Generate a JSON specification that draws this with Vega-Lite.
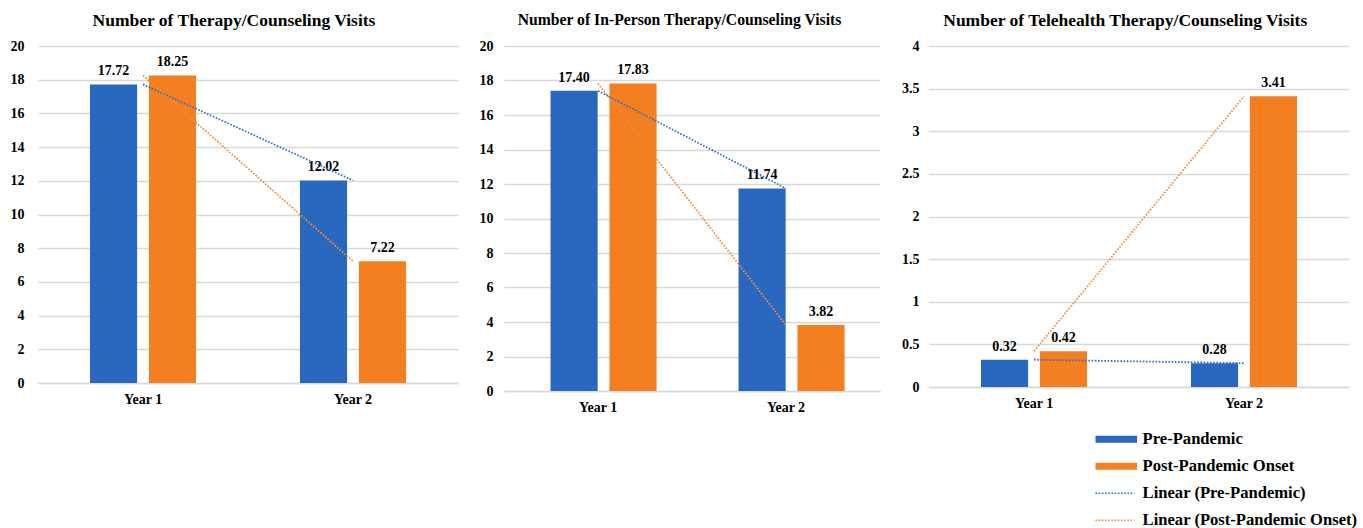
{
  "$schema": "https://vega.github.io/schema/vega-lite/v6.json",
  "background": "white",
  "padding": {"left": 10, "top": 11, "right": 0, "bottom": 0},
  "spacing": 21,
  "datasets": {
    "therapy": [
      {"year": "Year 1", "series": "Pre-Pandemic", "trend": "Linear (Pre-Pandemic)", "value": 17.72},
      {"year": "Year 1", "series": "Post-Pandemic Onset", "trend": "Linear (Post-Pandemic Onset)", "value": 18.25},
      {"year": "Year 2", "series": "Pre-Pandemic", "trend": "Linear (Pre-Pandemic)", "value": 12.02},
      {"year": "Year 2", "series": "Post-Pandemic Onset", "trend": "Linear (Post-Pandemic Onset)", "value": 7.22}
    ],
    "inperson": [
      {"year": "Year 1", "series": "Pre-Pandemic", "trend": "Linear (Pre-Pandemic)", "value": 17.40},
      {"year": "Year 1", "series": "Post-Pandemic Onset", "trend": "Linear (Post-Pandemic Onset)", "value": 17.83},
      {"year": "Year 2", "series": "Pre-Pandemic", "trend": "Linear (Pre-Pandemic)", "value": 11.74},
      {"year": "Year 2", "series": "Post-Pandemic Onset", "trend": "Linear (Post-Pandemic Onset)", "value": 3.82}
    ],
    "telehealth": [
      {"year": "Year 1", "series": "Pre-Pandemic", "trend": "Linear (Pre-Pandemic)", "value": 0.32},
      {"year": "Year 1", "series": "Post-Pandemic Onset", "trend": "Linear (Post-Pandemic Onset)", "value": 0.42},
      {"year": "Year 2", "series": "Pre-Pandemic", "trend": "Linear (Pre-Pandemic)", "value": 0.28},
      {"year": "Year 2", "series": "Post-Pandemic Onset", "trend": "Linear (Post-Pandemic Onset)", "value": 3.41}
    ]
  },
  "config": {
    "view": {"stroke": null},
    "font": "Liberation Serif",
    "title": {"font": "Liberation Serif", "fontSize": 17.5, "fontWeight": "bold", "color": "#000000", "offset": 10, "frame": "bounds"},
    "axis": {
      "labelFont": "Liberation Serif", "labelFontWeight": "bold", "labelFontSize": 14, "labelColor": "#000000",
      "ticks": false, "domain": false, "gridColor": "#d9d9d9", "gridWidth": 1.5
    },
    "axisX": {"grid": false, "domain": true, "domainColor": "#d9d9d9", "domainWidth": 1.5, "labelPadding": 9, "labelAngle": 0},
    "axisY": {"labelPadding": 13},
    "legend": {
      "orient": "none", "legendX": 1050, "legendY": 385,
      "labelFont": "Liberation Serif", "labelFontWeight": "bold", "labelFontSize": 16.6, "labelColor": "#000000",
      "labelLimit": 400, "symbolSize": 36, "labelOffset": 38, "rowPadding": 10
    },
    "text": {"font": "Liberation Serif", "fontWeight": "bold", "fontSize": 14, "color": "#000000"}
  },
  "hconcat": [
    {
      "data": {"name": "therapy"},
      "width": 420, "height": 337,
      "title": {"text": "Number of Therapy/Counseling Visits"},
      "encoding": {
        "x": {"field": "year", "type": "nominal", "title": null, "scale": {"paddingInner": 0.495, "paddingOuter": 0.2476}},
        "y": {"field": "value", "type": "quantitative", "title": null, "scale": {"domain": [0, 20]}, "axis": {"values": [0, 2, 4, 6, 8, 10, 12, 14, 16, 18, 20], "labelPadding": 14}}
      },
      "layer": [
        {
          "mark": {"type": "bar"},
          "encoding": {
            "xOffset": {"field": "series", "sort": ["Pre-Pandemic", "Post-Pandemic Onset"], "scale": {"paddingInner": 0.2, "paddingOuter": 0}},
            "color": {"field": "series", "type": "nominal",
              "scale": {"domain": ["Pre-Pandemic", "Post-Pandemic Onset", "Linear (Pre-Pandemic)", "Linear (Post-Pandemic Onset)"], "range": ["#2A67BE", "#F47F20", "#2F6FD0", "#F58A3A"]},
              "legend": {"title": null, "encode": {"symbols": {"update": {
                "shape": {"signal": "slice(datum.value,0,6) === 'Linear' ? 'M-0.3,0H12.7' : 'M0,-0.9H13.33V0.9H0Z'"},
                "fill": {"signal": "slice(datum.value,0,6) === 'Linear' ? 'transparent' : (datum.value === 'Pre-Pandemic' ? '#2A67BE' : '#F47F20')"},
                "stroke": {"signal": "slice(datum.value,0,6) === 'Linear' ? (datum.value === 'Linear (Pre-Pandemic)' ? '#2F6FD0' : '#F58A3A') : 'transparent'"},
                "strokeDash": {"signal": "slice(datum.value,0,6) === 'Linear' ? [1.6,1.6] : [1,0]"},
                "strokeWidth": {"value": 1.6},
                "opacity": {"value": 1}
              }}}}}
          }
        },
        {
          "mark": {"type": "text", "baseline": "bottom", "dy": -6},
          "encoding": {
            "xOffset": {"field": "series", "sort": ["Pre-Pandemic", "Post-Pandemic Onset"], "scale": {"paddingInner": 0.2, "paddingOuter": 0}},
            "text": {"field": "value", "type": "quantitative", "format": ".2f"}
          }
        },
        {
          "mark": {"type": "line", "strokeDash": [1.6, 1.6], "strokeWidth": 1.8},
          "encoding": {
            "color": {"field": "trend", "type": "nominal",
              "scale": {"domain": ["Pre-Pandemic", "Post-Pandemic Onset", "Linear (Pre-Pandemic)", "Linear (Post-Pandemic Onset)"], "range": ["#2A67BE", "#F47F20", "#2F6FD0", "#F58A3A"]},
              "legend": {"title": null}}
          }
        }
      ]
    },
    {
      "data": {"name": "inperson"},
      "width": 376, "height": 345,
      "title": {"text": "Number of In-Person Therapy/Counseling Visits", "fontSize": 15.7},
      "encoding": {
        "x": {"field": "year", "type": "nominal", "title": null, "scale": {"paddingInner": 0.495, "paddingOuter": 0.2476}},
        "y": {"field": "value", "type": "quantitative", "title": null, "scale": {"domain": [0, 20]}, "axis": {"values": [0, 2, 4, 6, 8, 10, 12, 14, 16, 18, 20], "labelPadding": 11}}
      },
      "layer": [
        {
          "mark": {"type": "bar"},
          "encoding": {
            "xOffset": {"field": "series", "sort": ["Pre-Pandemic", "Post-Pandemic Onset"], "scale": {"paddingInner": 0.2, "paddingOuter": 0}},
            "color": {"field": "series", "type": "nominal",
              "scale": {"domain": ["Pre-Pandemic", "Post-Pandemic Onset", "Linear (Pre-Pandemic)", "Linear (Post-Pandemic Onset)"], "range": ["#2A67BE", "#F47F20", "#2F6FD0", "#F58A3A"]},
              "legend": {"title": null}}
          }
        },
        {
          "mark": {"type": "text", "baseline": "bottom", "dy": -6},
          "encoding": {
            "xOffset": {"field": "series", "sort": ["Pre-Pandemic", "Post-Pandemic Onset"], "scale": {"paddingInner": 0.2, "paddingOuter": 0}},
            "text": {"field": "value", "type": "quantitative", "format": ".2f"}
          }
        },
        {
          "mark": {"type": "line", "strokeDash": [1.6, 1.6], "strokeWidth": 1.8},
          "encoding": {
            "color": {"field": "trend", "type": "nominal",
              "scale": {"domain": ["Pre-Pandemic", "Post-Pandemic Onset", "Linear (Pre-Pandemic)", "Linear (Post-Pandemic Onset)"], "range": ["#2A67BE", "#F47F20", "#2F6FD0", "#F58A3A"]},
              "legend": {"title": null}}
          }
        }
      ]
    },
    {
      "data": {"name": "telehealth"},
      "width": 420, "height": 341,
      "title": {"text": "Number of Telehealth Therapy/Counseling Visits"},
      "encoding": {
        "x": {"field": "year", "type": "nominal", "title": null, "scale": {"paddingInner": 0.495, "paddingOuter": 0.2476}},
        "y": {"field": "value", "type": "quantitative", "title": null, "scale": {"domain": [0, 4]}, "axis": {"values": [0, 0.5, 1, 1.5, 2, 2.5, 3, 3.5, 4], "format": "~g", "labelPadding": 10}}
      },
      "layer": [
        {
          "mark": {"type": "bar"},
          "encoding": {
            "xOffset": {"field": "series", "sort": ["Pre-Pandemic", "Post-Pandemic Onset"], "scale": {"paddingInner": 0.2, "paddingOuter": 0}},
            "color": {"field": "series", "type": "nominal",
              "scale": {"domain": ["Pre-Pandemic", "Post-Pandemic Onset", "Linear (Pre-Pandemic)", "Linear (Post-Pandemic Onset)"], "range": ["#2A67BE", "#F47F20", "#2F6FD0", "#F58A3A"]},
              "legend": {"title": null}}
          }
        },
        {
          "mark": {"type": "text", "baseline": "bottom", "dy": -6},
          "encoding": {
            "xOffset": {"field": "series", "sort": ["Pre-Pandemic", "Post-Pandemic Onset"], "scale": {"paddingInner": 0.2, "paddingOuter": 0}},
            "text": {"field": "value", "type": "quantitative", "format": ".2f"}
          }
        },
        {
          "mark": {"type": "line", "strokeDash": [1.6, 1.6], "strokeWidth": 1.8},
          "encoding": {
            "color": {"field": "trend", "type": "nominal",
              "scale": {"domain": ["Pre-Pandemic", "Post-Pandemic Onset", "Linear (Pre-Pandemic)", "Linear (Post-Pandemic Onset)"], "range": ["#2A67BE", "#F47F20", "#2F6FD0", "#F58A3A"]},
              "legend": {"title": null}}
          }
        }
      ]
    }
  ]
}
